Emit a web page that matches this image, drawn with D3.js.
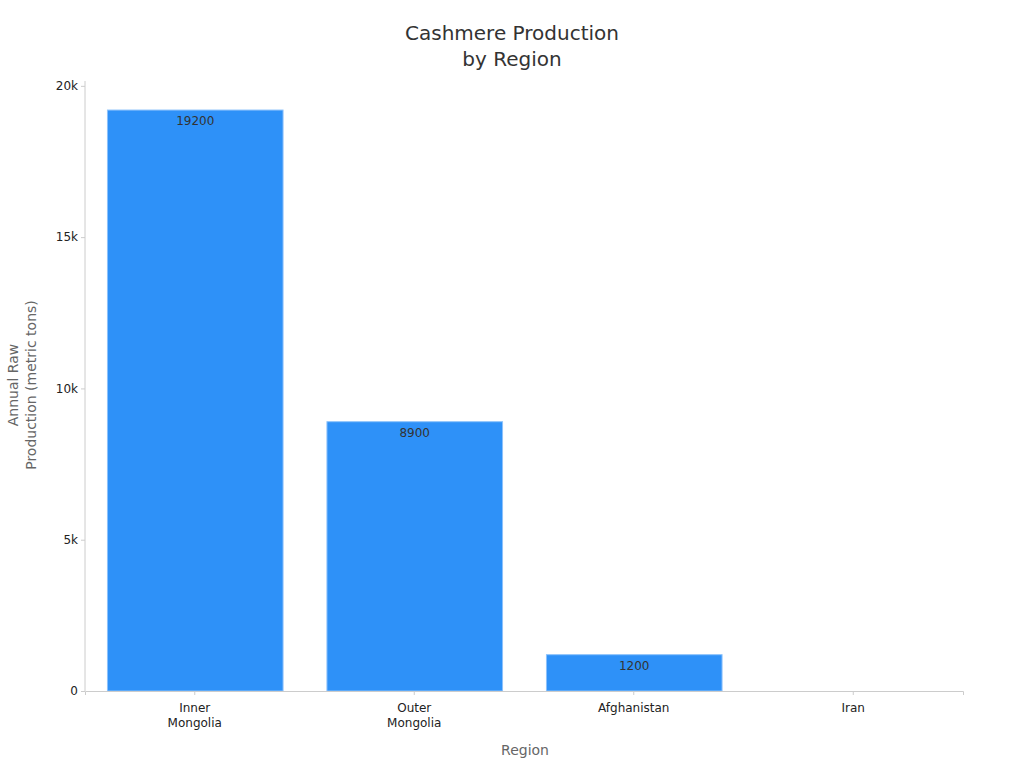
<!DOCTYPE html>
<html>
<head>
<meta charset="utf-8">
<script src="https://cdn.jsdelivr.net/npm/d3@7"></script>
<style>
    body { margin: 0; background: #fff; font-family: "DejaVu Sans", sans-serif; }
    .axis { font-family: "DejaVu Sans", sans-serif; }
    .axis text { font-size: 12px; fill: #222; }
    .axis path, .axis line { stroke: #ccc; }
    .axis-title { font-size: 14px; fill: #666; text-anchor: middle; }
    .bar-label { font-size: 12px; fill: #333; text-anchor: middle; }
</style>
</head>
<body>
<div id="chart"></div>
<script>
const regions = ['Inner\nMongolia', 'Outer\nMongolia', 'Afghanistan', 'Iran'];
const production = [19200, 8900, 1200, 0];
const yTicks = [0, 5000, 10000, 15000, 20000];

const WIDTH = 1024;
const HEIGHT = 768;
const MARGIN = { top: 81, right: 61, bottom: 77, left: 85 };
const INNER_WIDTH = WIDTH - MARGIN.left - MARGIN.right;
const INNER_HEIGHT = HEIGHT - MARGIN.top - MARGIN.bottom;

const data = regions.map((r, i) => ({ region: r, value: production[i] }));

const xScale = d3.scaleBand()
    .domain(regions)
    .range([0, INNER_WIDTH])
    .paddingInner(0.2)
    .paddingOuter(0.1);

const yScale = d3.scaleLinear()
    .domain([0, d3.max(production) * 1.05])
    .range([INNER_HEIGHT, 0]);

const svg = d3.select('#chart')
    .append('svg')
    .attr('width', WIDTH)
    .attr('height', HEIGHT);

svg.append('text')
    .attr('x', WIDTH / 2)
    .attr('text-anchor', 'middle')
    .style('font-size', '20px')
    .style('fill', '#333')
    .selectAll('tspan')
    .data(['Cashmere Production', 'by Region'])
    .enter()
    .append('tspan')
    .attr('x', WIDTH / 2)
    .attr('y', (d, i) => 40 + i * 26)
    .text(d => d);

const inner = svg.append('g')
    .attr('transform', `translate(${MARGIN.left},${MARGIN.top})`);

// bars
inner.selectAll('rect.bar')
    .data(data)
    .enter()
    .append('rect')
    .attr('class', 'bar')
    .attr('x', d => xScale(d.region) + 0.5)
    .attr('y', d => yScale(d.value))
    .attr('width', xScale.bandwidth())
    .attr('height', d => INNER_HEIGHT - yScale(d.value))
    .attr('fill', '#2e91f8')
    .attr('stroke', '#8cc2fb')
    .attr('stroke-width', 1);

inner.selectAll('text.bar-label')
    .data(data.filter(d => d.value > 0))
    .enter()
    .append('text')
    .attr('class', 'bar-label')
    .attr('x', d => xScale(d.region) + xScale.bandwidth() / 2 + 0.5)
    .attr('y', d => yScale(d.value) + 15)
    .text(d => d.value);

// x axis
const xAxis = inner.append('g')
    .attr('class', 'axis')
    .attr('transform', `translate(0,${INNER_HEIGHT})`)
    .call(d3.axisBottom(xScale).tickSize(4).tickPadding(8));
xAxis.selectAll('.tick line').attr('stroke', '#555');
xAxis.selectAll('.tick text').each(function (d) {
    const t = d3.select(this);
    const lines = d.split('\n');
    t.text(null);
    lines.forEach((l, i) => {
        t.append('tspan')
            .attr('x', 0)
            .attr('dy', i === 0 ? '0.71em' : '1.25em')
            .text(l);
    });
});

// y axis
const yAxis = inner.append('g')
    .attr('class', 'axis')
    .call(d3.axisLeft(yScale).tickValues(yTicks).tickSize(4).tickPadding(3)
        .tickFormat(d => d === 0 ? '0' : d / 1000 + 'k'));
yAxis.selectAll('.tick line').attr('stroke', '#555');
yAxis.select('.domain').attr('d', `M0,${INNER_HEIGHT}V0`);

// axis titles
inner.append('text')
    .attr('class', 'axis-title')
    .attr('x', INNER_WIDTH / 2 + 1)
    .attr('y', INNER_HEIGHT + 64)
    .text('Region');

inner.append('text')
    .attr('class', 'axis-title')
    .attr('transform', 'rotate(-90)')
    .selectAll('tspan')
    .data(['Annual Raw', 'Production (metric tons)'])
    .enter()
    .append('tspan')
    .attr('x', -INNER_HEIGHT / 2 + 1)
    .attr('y', (d, i) => -67 + i * 18)
    .text(d => d);
</script>
</body>
</html>
